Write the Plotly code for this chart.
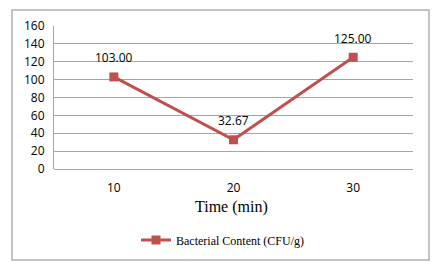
import plotly.graph_objects as go

categories = ["10", "20", "30"]
values = [103.00, 32.67, 125.00]
labels = ["103.00", "32.67", "125.00"]
series_name = "Bacterial Content (CFU/g)"
x_title = "Time (min)"
y_ticks = [0, 20, 40, 60, 80, 100, 120, 140, 160]

RED = "#C0504D"
GRID = "#A6A6A6"
L, R, T, B = 54, 27, 26, 103
W, H = 440, 272
pw, ph = W - L - R, H - T - B

def px_x(p):
    return (p - L) / pw

def px_y(p):
    return (H - B - p) / ph

fig = go.Figure()
fig.add_trace(go.Scatter(
    x=categories, y=values, mode="lines+markers", name=series_name,
    line=dict(color=RED, width=3),
    marker=dict(symbol="square", size=9, color=RED),
))

for i, (v, t) in enumerate(zip(values, labels)):
    fig.add_annotation(x=i, y=v, xref="x", yref="y", text=t, showarrow=False, yshift=19,
                       font=dict(family="Open Sans", size=12, color="#000"))

fig.add_annotation(x=px_x(231), y=px_y(207), xref="paper", yref="paper",
                   text=x_title, showarrow=False, xanchor="center", yanchor="middle",
                   font=dict(family="Liberation Serif", size=16, color="#000"))

fig.add_shape(type="rect", xref="paper", yref="paper",
              x0=px_x(12), x1=px_x(429), y0=px_y(260), y1=px_y(10),
              line=dict(color="#B0B0B0", width=1.5), layer="below")

fig.update_layout(
    width=W, height=H,
    margin=dict(l=L, r=R, t=T, b=B),
    paper_bgcolor="white", plot_bgcolor="white",
    showlegend=True,
    legend=dict(orientation="h", x=px_x(136), y=px_y(240), xanchor="left", yanchor="middle",
                font=dict(family="Liberation Serif", size=12, color="#000"),
                bgcolor="rgba(0,0,0,0)"),
    xaxis=dict(type="category", showgrid=False, zeroline=False, showline=False,
               ticks="outside", ticklen=8, tickcolor="rgba(0,0,0,0)",
               tickfont=dict(family="Open Sans", size=12, color="#000"),
               range=[-0.5, 2.5]),
    yaxis=dict(range=[0, 160], tickvals=y_ticks, showgrid=True, gridcolor=GRID, gridwidth=1,
               zeroline=True, zerolinecolor=GRID, zerolinewidth=1,
               showline=True, linecolor=GRID, linewidth=1,
               ticks="outside", ticklen=6, tickcolor="rgba(0,0,0,0)",
               tickfont=dict(family="Open Sans", size=12, color="#000")),
)

fig.write_html("out.html")
